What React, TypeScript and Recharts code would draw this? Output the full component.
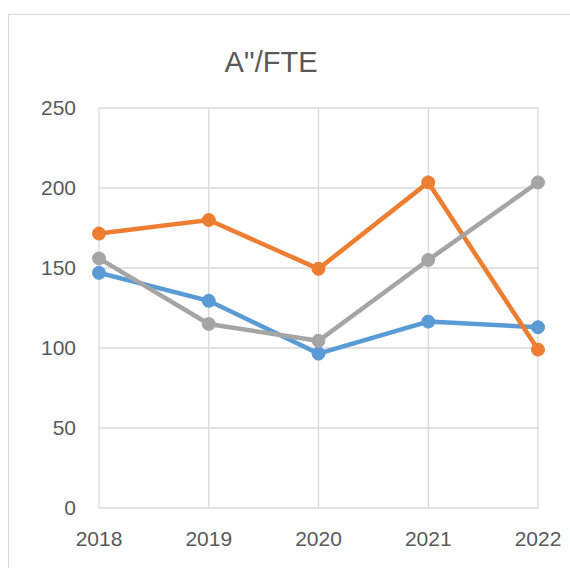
import { LineChart, Line, XAxis, YAxis, CartesianGrid } from "recharts";

const years = ["2018", "2019", "2020", "2021", "2022"];
const blueSeries = [147, 129.5, 96.5, 116.5, 113];
const orangeSeries = [171.5, 180, 149.5, 203.5, 99];
const graySeries = [156, 115, 104.5, 155, 203.5];
const yTicks = [0, 50, 100, 150, 200, 250];

const chartData = years.map((year, i) => ({
  year,
  blue: blueSeries[i],
  orange: orangeSeries[i],
  gray: graySeries[i],
}));

const font = "'Liberation Sans', Arial, sans-serif";
const tickStyle = { fontSize: 21, fill: "#595959", fontFamily: font };

export default function App() {
  return (
    <div style={{ position: "fixed", left: 0, top: 0, width: 570, height: 568, background: "#fff" }}>
      <div
        style={{
          position: "absolute",
          left: 8,
          top: 14,
          width: 562,
          height: 554,
          borderTop: "1px solid #d9d9d9",
          borderLeft: "1px solid #d9d9d9",
          boxSizing: "border-box",
        }}
      />
      <div
        style={{
          position: "absolute",
          left: 171,
          top: 48,
          width: 200,
          textAlign: "center",
          fontFamily: font,
          fontSize: 29,
          lineHeight: "29px",
          color: "#595959",
        }}
      >
        A''/FTE
      </div>
      <div style={{ position: "absolute", left: 0, top: 0 }}>
        <LineChart
          width={570}
          height={568}
          data={chartData}
          margin={{ top: 108, right: 32, bottom: 20, left: 39 }}
        >
          <CartesianGrid stroke="#d9d9d9" strokeWidth={1.3} />
          <XAxis
            dataKey="year"
            axisLine={false}
            tickLine={false}
            tickSize={0}
            tickMargin={23}
            height={40}
            tick={tickStyle}
          />
          <YAxis
            domain={[0, 250]}
            ticks={yTicks}
            axisLine={false}
            tickLine={false}
            tickSize={0}
            tickMargin={23}
            width={60}
            tick={tickStyle}
          />
          <Line
            dataKey="blue"
            stroke="#5B9BD5"
            strokeWidth={4.5}
            dot={{ r: 6.5, fill: "#5B9BD5", stroke: "#5B9BD5", strokeWidth: 1 }}
            isAnimationActive={false}
          />
          <Line
            dataKey="orange"
            stroke="#ED7D31"
            strokeWidth={4.5}
            dot={{ r: 6.5, fill: "#ED7D31", stroke: "#ED7D31", strokeWidth: 1 }}
            isAnimationActive={false}
          />
          <Line
            dataKey="gray"
            stroke="#A5A5A5"
            strokeWidth={4.5}
            dot={{ r: 6.5, fill: "#A5A5A5", stroke: "#A5A5A5", strokeWidth: 1 }}
            isAnimationActive={false}
          />
        </LineChart>
      </div>
    </div>
  );
}
